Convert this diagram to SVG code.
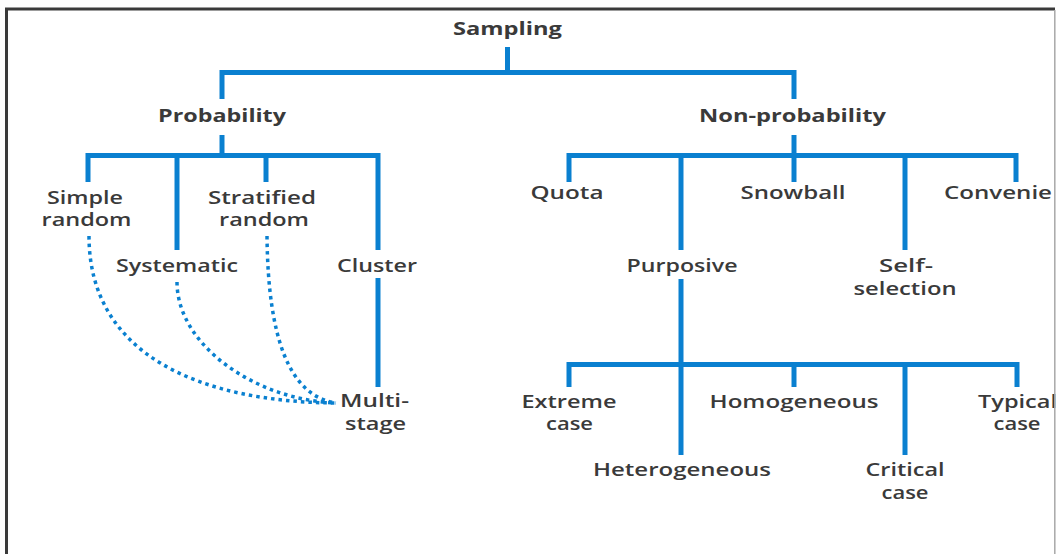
<svg xmlns="http://www.w3.org/2000/svg" width="1056" height="554" viewBox="0 0 1056 554">
  <style>
    .ln { fill: none; stroke: #0a80d0; stroke-width: 5; stroke-linejoin: miter; stroke-linecap: butt; }
    .dot { fill: none; stroke: #0a80d0; stroke-width: 3.5; stroke-dasharray: 3.5 4; }
    text { font-family: "Open Sans", "Liberation Sans", sans-serif; font-size: 18px; fill: #3a3a3a; text-anchor: middle; font-weight: 600; }
    .h { font-weight: 700; }
    .st { text-anchor: start; }
  </style>

  <rect width="1056" height="554" fill="#ffffff"/>

  <!-- tree connectors -->
  <g id="connectors">
    <path class="ln" d="M507.5,47 V72.5"/>
    <path class="ln" d="M222,99 V72.5 H794 V99"/>

    <path class="ln" d="M222,135 V155.5"/>
    <path class="ln" d="M88,182 V155.5 H378 V250"/>
    <path class="ln" d="M177,155.5 V250"/>
    <path class="ln" d="M266,155.5 V182"/>
    <path class="ln" d="M378,278 V387"/>

    <path class="ln" d="M794,135 V155.5"/>
    <path class="ln" d="M569,182 V155.5 H1016 V182"/>
    <path class="ln" d="M681,155.5 V250"/>
    <path class="ln" d="M794,155.5 V182"/>
    <path class="ln" d="M905,155.5 V250"/>

    <path class="ln" d="M681,279 V455"/>
    <path class="ln" d="M569,387 V364.5 H1017 V387"/>
    <path class="ln" d="M794,364.5 V387"/>
    <path class="ln" d="M905,364.5 V455"/>

    <!-- dotted links into multi-stage -->
    <path class="dot" d="M89,236 C89,355 200,402 336,403"/>
    <path class="dot" d="M177,282 C177,345 255,400 336,403"/>
    <path class="dot" d="M267,236 C268,340 290,396 336,403"/>
  </g>

  <g id="sampling"><text class="h" x="507.5" y="35" textLength="109" lengthAdjust="spacingAndGlyphs">Sampling</text></g>
  <g id="probability"><text class="h" x="222" y="122" textLength="128" lengthAdjust="spacingAndGlyphs">Probability</text></g>
  <g id="non-probability"><text class="h" x="792.5" y="122" textLength="187" lengthAdjust="spacingAndGlyphs">Non-probability</text></g>

  <g id="simple-random">
    <text x="85" y="204" textLength="76" lengthAdjust="spacingAndGlyphs">Simple</text>
    <text x="86.5" y="226" textLength="90" lengthAdjust="spacingAndGlyphs">random</text>
  </g>
  <g id="stratified-random">
    <text x="262" y="204" textLength="108" lengthAdjust="spacingAndGlyphs">Stratified</text>
    <text x="264" y="226" textLength="90" lengthAdjust="spacingAndGlyphs">random</text>
  </g>
  <g id="systematic"><text x="177" y="272" textLength="122" lengthAdjust="spacingAndGlyphs">Systematic</text></g>
  <g id="cluster"><text x="377" y="272" textLength="80" lengthAdjust="spacingAndGlyphs">Cluster</text></g>
  <g id="multi-stage">
    <text x="374.5" y="407" textLength="69" lengthAdjust="spacingAndGlyphs">Multi-</text>
    <text x="375.5" y="430" textLength="61" lengthAdjust="spacingAndGlyphs">stage</text>
  </g>

  <g id="quota"><text x="567" y="199" textLength="73" lengthAdjust="spacingAndGlyphs">Quota</text></g>
  <g id="snowball"><text x="793" y="199" textLength="105" lengthAdjust="spacingAndGlyphs">Snowball</text></g>
  <g id="convenience"><text class="st" x="944" y="199" textLength="108" lengthAdjust="spacingAndGlyphs">Convenie</text></g>
  <g id="purposive"><text x="682" y="272" textLength="111" lengthAdjust="spacingAndGlyphs">Purposive</text></g>
  <g id="self-selection">
    <text x="906" y="272" textLength="54" lengthAdjust="spacingAndGlyphs">Self-</text>
    <text x="905" y="295" textLength="103" lengthAdjust="spacingAndGlyphs">selection</text>
  </g>

  <g id="extreme-case">
    <text x="569" y="408" textLength="95" lengthAdjust="spacingAndGlyphs">Extreme</text>
    <text x="569.5" y="430" textLength="47" lengthAdjust="spacingAndGlyphs">case</text>
  </g>
  <g id="homogeneous"><text x="794" y="408" textLength="169" lengthAdjust="spacingAndGlyphs">Homogeneous</text></g>
  <g id="typical-case">
    <text class="st" x="978" y="408" textLength="79" lengthAdjust="spacingAndGlyphs">Typical</text>
    <text x="1017" y="430" textLength="47" lengthAdjust="spacingAndGlyphs">case</text>
  </g>
  <g id="heterogeneous"><text x="682" y="476" textLength="178" lengthAdjust="spacingAndGlyphs">Heterogeneous</text></g>
  <g id="critical-case">
    <text x="905" y="476" textLength="79" lengthAdjust="spacingAndGlyphs">Critical</text>
    <text x="905" y="499" textLength="47" lengthAdjust="spacingAndGlyphs">case</text>
  </g>

  <!-- frame -->
  <g id="frame">
    <path d="M6.5,554 V9 H1055" fill="none" stroke="#3a3a3a" stroke-width="3"/>
    <path d="M1054.8,10 V554" fill="none" stroke="#a8a8a8" stroke-width="1.5"/>
  </g>
</svg>
